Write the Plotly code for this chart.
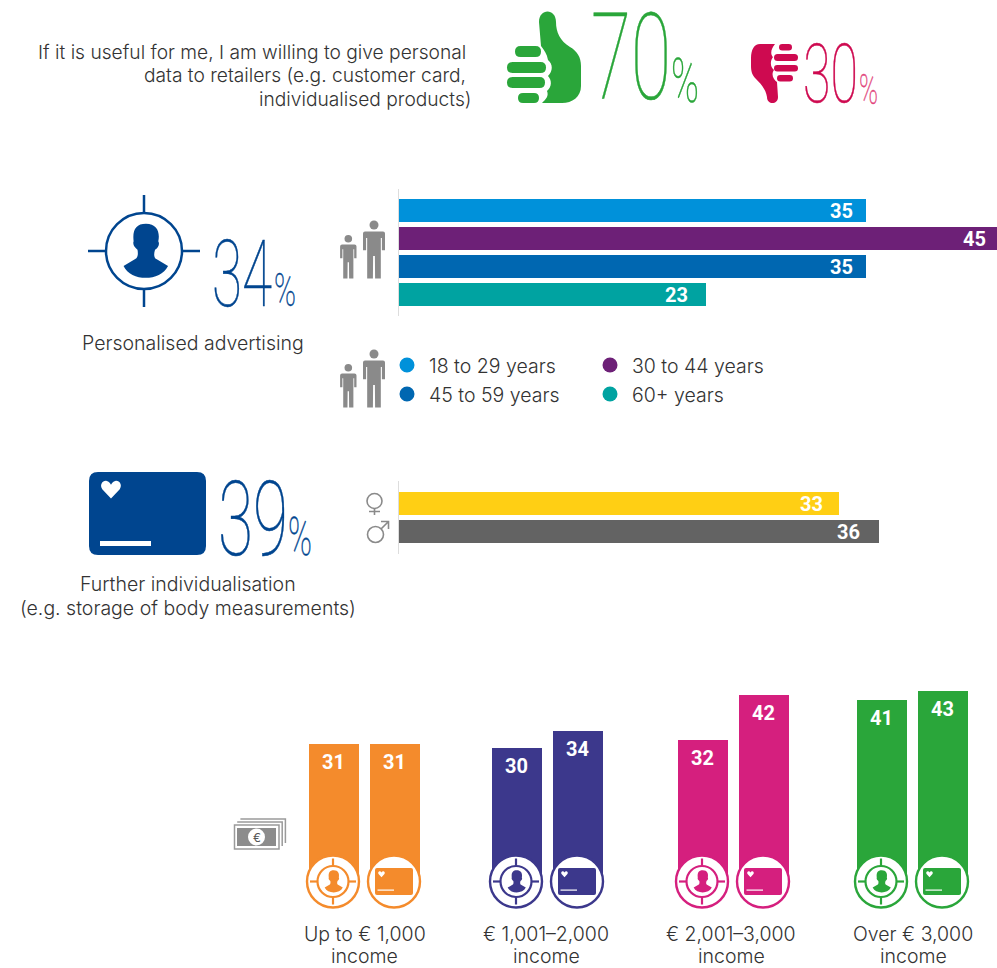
import plotly.graph_objects as go

W, H = 997, 968

# ---------- data ----------
age_groups = ["18 to 29 years", "30 to 44 years", "45 to 59 years", "60+ years"]
age_values = [35, 45, 35, 23]
age_colors = ["#0091DA", "#6D2077", "#0067B1", "#00A3A1"]
age_label_shift = [-25, -25, -25, -29]

genders = ["Female", "Male"]
gender_values = [33, 36]
gender_colors = ["#FFCF14", "#636363"]
gender_label_shift = [-28, -31]

income_groups = ["Up to € 1,000", "€ 1,001–2,000", "€ 2,001–3,000", "Over € 3,000"]
income_measures = ["Personalised advertising", "Further individualisation"]
income_advertising = [31, 30, 32, 41]
income_individual = [31, 34, 42, 43]
income_colors = ["#F48B2C", "#3C388C", "#D51F7E", "#2AA63A"]

headline = [70, 30]
GREEN, CRIMSON, BLUE, GREY = "#2AA63A", "#CE0A50", "#00458F", "#8A8A8A"
TEXT = "#333333"
FONT = "Inter"
BODY = 19.5
VALUE_FONT = dict(size=20, color="#FFFFFF", family="Roboto", weight=700)

shapes, annotations = [], []


def px(dx):
    return dict(xref="x9", yref="y9", **dx)


def path(d, fill, line=None, lw=0):
    shapes.append(px(dict(type="path", path=d, fillcolor=fill, layer="above",
                          line=dict(color=line or "rgba(0,0,0,0)", width=lw))))


def stroke(d, color, lw):
    shapes.append(px(dict(type="path", path=d, layer="above", line=dict(color=color, width=lw))))


def circle(cx, cy, r, fill=None, line=None, lw=0):
    shapes.append(px(dict(type="circle", x0=cx - r, x1=cx + r, y0=cy - r, y1=cy + r, layer="above",
                          fillcolor=fill or "rgba(0,0,0,0)",
                          line=dict(color=line or "rgba(0,0,0,0)", width=lw))))


def rrect(x0, y0, x1, y1, r, fill):
    d = (f"M{x0+r},{y0} L{x1-r},{y0} Q{x1},{y0} {x1},{y0+r} L{x1},{y1-r} Q{x1},{y1} {x1-r},{y1} "
         f"L{x0+r},{y1} Q{x0},{y1} {x0},{y1-r} L{x0},{y0+r} Q{x0},{y0} {x0+r},{y0} Z")
    path(d, fill)


def pill(x0, y0, x1, y1, fill):
    rrect(x0, y0, x1, y1, (y1 - y0) / 2, fill)


def text(x, y, s, size=BODY, color=TEXT, anchor="left", weight=300, family=FONT, vanchor="middle"):
    annotations.append(dict(xref="x9", yref="y9", x=x, y=y, text=s, showarrow=False,
                            xanchor=anchor, yanchor=vanchor, borderpad=0, borderwidth=0,
                            font=dict(size=size, color=color, family=family, weight=weight)))


def heart(cx, cy, s, fill):
    d = (f"M{cx},{cy+s} L{cx-s*.92},{cy+s*.02} C{cx-s*1.25},{cy-s*.45} {cx-s*.85},{cy-s*.95} {cx-s*.45},{cy-s*.85} "
         f"C{cx-s*.25},{cy-s*.8} {cx-s*.05},{cy-s*.6} {cx},{cy-s*.45} "
         f"C{cx+s*.05},{cy-s*.6} {cx+s*.25},{cy-s*.8} {cx+s*.45},{cy-s*.85} "
         f"C{cx+s*.85},{cy-s*.95} {cx+s*1.25},{cy-s*.45} {cx+s*.92},{cy+s*.02} Z")
    path(d, fill)


def person_bust(cx, cy, r, fill):
    k = r / 117.0
    P = lambda a, b: f"{cx + a*k:.2f},{cy + b*k:.2f}"
    d = ("M" + P(-63, 46) + " L" + P(-27, 25) + " C" + P(-18, 20) + " " + P(-18, 8) + " " + P(-20, -4)
         + " C" + P(-28, -10) + " " + P(-36, -20) + " " + P(-32, -30)
         + " C" + P(-36, -65) + " " + P(-25, -84) + " " + P(6, -84)
         + " C" + P(40, -84) + " " + P(50, -58) + " " + P(44, -30)
         + " C" + P(50, -20) + " " + P(42, -8) + " " + P(34, -4)
         + " C" + P(30, 8) + " " + P(30, 20) + " " + P(38, 25)
         + " L" + P(74, 46) + " C" + P(50, 95) + " " + P(-40, 95) + " " + P(-63, 46) + " Z")
    path(d, fill)


def target(cx, cy, r, color, lw, cross_in, cross_out):
    circle(cx, cy, r, line=color, lw=lw)
    for sx, sy in ((1, 0), (-1, 0), (0, 1), (0, -1)):
        stroke(f"M{cx+sx*cross_in},{cy+sy*cross_in} L{cx+sx*cross_out},{cy+sy*cross_out}", color, lw)
    person_bust(cx, cy, r, color)


def figure_person(cx, top, bottom, hw, head_r, fill):
    hy = top + head_r
    circle(cx, hy, head_r, fill=fill)
    t = top + 2 * head_r + 2
    leg = bottom - t
    d = (f"M{cx-hw+2},{t} L{cx+hw-2},{t} Q{cx+hw},{t} {cx+hw},{t+2} L{cx+hw},{t+leg*.40} L{cx+hw*.72},{t+leg*.40} "
         f"L{cx+hw*.72},{t+leg*.14} L{cx+hw*.62},{t+leg*.14} L{cx+hw*.62},{bottom} L{cx+hw*.1},{bottom} L{cx+hw*.08},{t+leg*.52} "
         f"L{cx-hw*.08},{t+leg*.52} L{cx-hw*.1},{bottom} L{cx-hw*.62},{bottom} L{cx-hw*.62},{t+leg*.14} L{cx-hw*.72},{t+leg*.14} "
         f"L{cx-hw*.72},{t+leg*.40} L{cx-hw},{t+leg*.40} L{cx-hw},{t+2} Q{cx-hw},{t} {cx-hw+2},{t} Z")
    path(d, fill)


def family(dy):
    figure_person(374, 220.5 + dy, 278.5 + dy, 11, 4.5, GREY)
    figure_person(348.3, 235 + dy, 278.5 + dy, 8.2, 3.8, GREY)


# ---------- thin headline numerals (condensed in post_script, index order matters) ----------
condensed = [
    # string, left, vertical centre, font size, colour, target width
    (f"{headline[0]}", 591, 57.5, 121, GREEN, 80),
    ("%", 671, 80, 62, GREEN, 28),
    (f"{headline[1]}", 803, 74, 82, CRIMSON, 55),
    ("%", 859, 89, 42, "#E2457C", 19),
    ("34", 212, 274, 92, BLUE, 60),
    ("%", 274, 290, 46, BLUE, 22),
    ("39", 218, 519, 104, BLUE, 70),
    ("%", 288, 537, 53, BLUE, 24),
]
for s, x, y, size, col, _ in condensed:
    text(x, y, s, size=size, color=col, weight=100, family="Roboto")

# ---------- thumbs ----------
path("M539,22 C539,8 556,8 556,22 C556,32 560,41 570,47 C577,51 581,57 581,66 L581,86 C581,97 572,103 562,103 "
     "L542,103 C546,99 549,96 547,91 C552,87 552,80 548,76 C553,71 553,64 548,60 C547,54 544,50 541,46 Z", GREEN)
pill(515, 46, 541, 57, GREEN)
pill(507, 62, 546, 73, GREEN)
pill(507, 77, 545, 88, GREEN)
pill(518, 93, 539, 103, GREEN)

path("M760,44 L775,44 C771,49 770,54 773,57 C770,61 770,67 774,70 C771,74 773,79 777,82 L778,97 C778,105 767,105 767,97 "
     "C766,90 762,85 756,79 C752,75 751,71 751,66 L751,58 C751,50 754,44 760,44 Z", CRIMSON)
pill(779, 44, 792, 50.5, CRIMSON)
pill(774, 54, 798, 61, CRIMSON)
pill(774, 65, 798, 71.5, CRIMSON)
pill(777, 75, 793, 81.5, CRIMSON)

for s, x, y in [("If it is useful for me, I am willing to give personal", 466, 52),
                ("data to retailers (e.g. customer card,", 466, 75),
                ("individualised products)", 471, 99)]:
    text(x, y, s, anchor="right", size=19.2)

# ---------- section 2 ----------
target(144, 251, 38, BLUE, 2.5, 38, 56)
text(193, 343, "Personalised advertising", anchor="center")
family(0)
family(129)

legend_pos = [(407, 365), (610, 365), (407, 394), (610, 394)]
for (x, y), name, col in zip(legend_pos, age_groups, age_colors):
    circle(x, y, 7.5, fill=col)
    text(x + 22, y + 0.5, name)

# ---------- section 3 ----------
rrect(89, 472, 206, 555, 9, BLUE)
heart(111, 489, 9.5, "#FFFFFF")
path("M100,541 L151,541 L151,546 L100,546 Z", "#FFFFFF")
text(188, 584, "Further individualisation", anchor="center")
text(188, 608, "(e.g. storage of body measurements)", anchor="center")

circle(374.5, 501, 7.5, line=GREY, lw=1.6)
stroke("M374.5,508.5 L374.5,515 M369,511.5 L380,511.5", GREY, 1.6)
circle(375.5, 534.5, 8, line=GREY, lw=1.6)
stroke("M381,529 L388,522 M381,521.5 L388.5,521.5 L388.5,529", GREY, 1.6)

# ---------- money icon ----------
for off in (2, 1):
    x0, y0 = 234 + off * 3.2, 825 - off * 3
    stroke(f"M{x0},{y0} L{x0+45},{y0} L{x0+45},{y0+24}", "#9A9A9A", 1.5)
path("M234.5,825 L279,825 L279,849 L234.5,849 Z", "#FFFFFF", "#9A9A9A", 1.5)
path("M237,828 L276,828 L276,846 L237,846 Z", "#8C8C8C")
circle(256.5, 837, 8.5, fill="#FFFFFF")
text(256.5, 837, "€", size=12, color="#555555", anchor="center", weight=400)

# ---------- income ----------
group_edges = [302.5, 485.5, 671.5, 850.5]
label_centres = [364.5, 546, 731, 913]
GROUP_W = 122
axes = {}
traces = []
for i, group in enumerate(income_groups):
    xa = f"x{i+3}"
    left = group_edges[i]
    axes[f"xaxis{i+3}"] = dict(domain=[left / W, (left + GROUP_W) / W], anchor="y3", visible=False,
                               type="category", categoryorder="array", categoryarray=income_measures,
                               range=[-0.5, 1.5], fixedrange=True)
    vals = [income_advertising[i], income_individual[i]]
    traces.append(go.Bar(x=income_measures, y=vals, xaxis=xa, yaxis="y3", width=50 / 61,
                         marker=dict(color=income_colors[i], line=dict(width=0)),
                         name=group, showlegend=False))
    for k, v in enumerate(vals):
        annotations.append(dict(xref=xa, yref="y3", x=k, y=v, yshift=-18, text=str(v), showarrow=False,
                                font=VALUE_FONT))
    c1, c2 = left + 30.5, left + 91.5
    col = income_colors[i]
    # advertising badge
    circle(c1, 881.5, 26, fill="#FFFFFF", line=col, lw=2.4)
    target(c1, 881.5, 15.5, col, 2.2, 15.5, 23)
    # individualisation badge
    circle(c2, 881.5, 26, fill="#FFFFFF", line=col, lw=2.4)
    rrect(c2 - 19, 868, c2 + 19, 895, 2, col)
    heart(c2 - 12.5, 874, 3.2, "#FFFFFF")
    path(f"M{c2-16.5},889.5 L{c2},889.5 L{c2},890.7 L{c2-16.5},890.7 Z", "#FFFFFF")
    text(label_centres[i], 934, group, anchor="center")
    text(label_centres[i], 956, "income", anchor="center")

# ---------- horizontal bars ----------
PX_PER_UNIT = 13.345
INC_PX = 4.42
AGE_MAX = 598 / PX_PER_UNIT
traces.append(go.Bar(y=age_groups, x=age_values, orientation="h", xaxis="x", yaxis="y", width=23 / 28,
                     marker=dict(color=age_colors, line=dict(width=0)), showlegend=False, name="Age"))
traces.append(go.Bar(y=genders, x=gender_values, orientation="h", xaxis="x2", yaxis="y2", width=23 / 28,
                     marker=dict(color=gender_colors, line=dict(width=0)), showlegend=False, name="Gender"))
for g, v, sh in zip(age_groups, age_values, age_label_shift):
    # a value beyond the window's right edge is labelled from that edge
    over = max(0, v - AGE_MAX) * PX_PER_UNIT
    annotations.append(dict(xref="x", yref="y", x=min(v, AGE_MAX), y=g, xshift=sh + over, text=str(v),
                            showarrow=False, font=VALUE_FONT))
for g, v, sh in zip(genders, gender_values, gender_label_shift):
    annotations.append(dict(xref="x2", yref="y2", x=v, y=g, xshift=sh, text=str(v),
                            showarrow=False, font=VALUE_FONT))

layout = dict(
    width=W, height=H, margin=dict(l=0, r=0, t=0, b=0), paper_bgcolor="#FFFFFF", plot_bgcolor="rgba(0,0,0,0)",
    showlegend=False, shapes=shapes, annotations=annotations, bargap=0,
    xaxis=dict(domain=[399 / W, 1], anchor="y", range=[0, AGE_MAX], visible=False, fixedrange=True),
    yaxis=dict(domain=[1 - 316 / H, 1 - 189 / H], anchor="x", type="category", categoryorder="array",
               categoryarray=age_groups, range=[1.5 + 127 / 56, 1.5 - 127 / 56], showline=True,
               linecolor="#DDDDDD", linewidth=1, showticklabels=False, ticks="", showgrid=False, zeroline=False,
               fixedrange=True),
    xaxis2=dict(domain=[398.7 / W, 1], anchor="y2", range=[0, 598.3 / PX_PER_UNIT], visible=False, fixedrange=True),
    yaxis2=dict(domain=[1 - 554 / H, 1 - 481 / H], anchor="x2", type="category", categoryorder="array",
                categoryarray=genders, range=[0.5 + 73 / 56, 0.5 - 73 / 56], showline=True,
                linecolor="#DDDDDD", linewidth=1, showticklabels=False, ticks="", showgrid=False, zeroline=False,
                fixedrange=True),
    yaxis3=dict(domain=[1 - 881 / H, 1 - 680 / H], anchor="x3", range=[0, 201 / INC_PX], visible=False,
                fixedrange=True),
    xaxis9=dict(domain=[0, 1], anchor="y9", range=[0, W], visible=False, fixedrange=True),
    yaxis9=dict(domain=[0, 1], anchor="x9", range=[H, 0], visible=False, fixedrange=True),
    **axes,
)
fig = go.Figure(traces, layout)

widths = [c[5] for c in condensed]
post = """
document.body.style.margin = '0';
document.documentElement.style.overflow = 'hidden';
var gd = document.getElementById('{plot_id}');
var widths = %s;
widths.forEach(function(w, i) {
  var g = gd.querySelector('.annotation[data-index="' + i + '"] text');
  if (!g) return;
  var b = g.getBBox();
  var s = w / b.width;
  g.setAttribute('transform', 'translate(' + b.x + ',0) scale(' + s + ',1) translate(' + (-b.x) + ',0)');
  g.style.stroke = g.style.fill;
  g.style.strokeWidth = '0.5px';
});
""" % widths
fig.write_html("out.html", post_script=post, config={"displayModeBar": False})
